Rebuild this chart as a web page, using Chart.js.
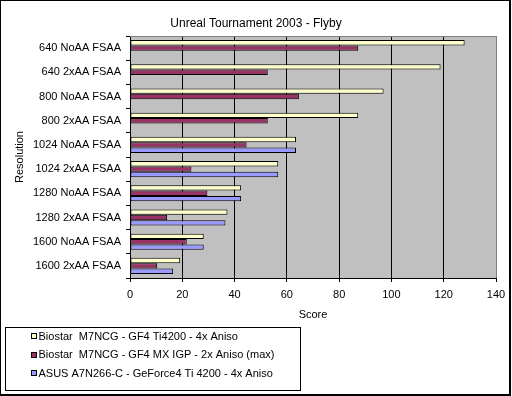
<!DOCTYPE html>
<html><head><meta charset="utf-8">
<script src="https://cdn.jsdelivr.net/npm/chart.js@4.4.0/dist/chart.umd.min.js"></script>
<style>html,body{margin:0;padding:0;background:#fff;}#wrap{width:512px;height:396px;}</style>
</head><body><div id="wrap"><canvas id="c" width="512" height="396"></canvas></div>
<script>
const chartTitle = 'Unreal Tournament 2003 - Flyby';
const xTitle = 'Score';
const yTitle = 'Resolution';
const categories = ['640 NoAA FSAA','640 2xAA FSAA','800 NoAA FSAA','800 2xAA FSAA','1024 NoAA FSAA','1024 2xAA FSAA','1280 NoAA FSAA','1280 2xAA FSAA','1600 NoAA FSAA','1600 2xAA FSAA'];
const seriesNames = ['Biostar  M7NCG - GF4 Ti4200 - 4x Aniso','Biostar  M7NCG - GF4 MX IGP - 2x Aniso (max)','ASUS A7N266-C - GeForce4 Ti 4200 - 4x Aniso'];
const biostarTi4200 = [128, 118.8, 97, 87.3, 63.5, 56.7, 42.5, 37.3, 28.2, 19.2];
const biostarMxIgp = [87.3, 52.7, 64.6, 52.7, 44.6, 23.5, 29.6, 14.2, 21.7, 10.4];
const asusTi4200 = [null, null, null, null, 63.5, 56.7, 42.5, 36.5, 28.2, 16.5];
const xTicks = [0, 20, 40, 60, 80, 100, 120, 140];
const seriesColors = ['#FFFFCC', '#993366', '#9999FF'];

const FONT = '"Liberation Sans", Arial, sans-serif';

const decor = {
  id: 'decor',
  beforeDraw(chart) {
    const ctx = chart.ctx, a = chart.chartArea;
    ctx.save();
    ctx.fillStyle = '#fff';
    ctx.fillRect(0, 0, chart.width, chart.height);
    ctx.fillStyle = '#C0C0C0';
    ctx.fillRect(a.left, a.top, a.right - a.left, a.bottom - a.top);
    ctx.restore();
  },
  afterDraw(chart) {
    const ctx = chart.ctx, a = chart.chartArea;
    ctx.save();
    ctx.strokeStyle = '#808080'; ctx.lineWidth = 1;
    ctx.beginPath();
    ctx.moveTo(a.left, Math.round(a.top) + 0.5);
    ctx.lineTo(a.right + 0.5, Math.round(a.top) + 0.5);
    ctx.stroke();
    ctx.fillStyle = '#000';
    ctx.fillRect(0, 0, 511, 1);
    ctx.fillRect(0, 0, 1, 396);
    ctx.fillRect(509, 0, 2, 396);
    ctx.fillRect(0, 394, 511, 2);
    ctx.strokeStyle = '#000';
    ctx.strokeRect(5.5, 327.5, 295, 63);
    ctx.font = '11px ' + FONT;
    ctx.textBaseline = 'middle';
    ctx.textAlign = 'left';
    chart.data.datasets.forEach((ds, i) => {
      const cy = 336 + i * 18.7;
      ctx.fillStyle = ds.backgroundColor;
      ctx.fillRect(31, Math.round(cy) - 3, 6, 6);
      ctx.strokeRect(31.5, Math.round(cy) - 2.5, 5, 5);
      ctx.fillStyle = '#000';
      ctx.fillText(ds.label, 38.5, cy + 0.5);
    });
    ctx.restore();
  }
};

const mk = (i, data) => ({
  label: seriesNames[i], data,
  backgroundColor: seriesColors[i], borderColor: '#000', borderWidth: 1, borderSkipped: false,
  categoryPercentage: 3 / 4.5, barPercentage: 1
});

new Chart(document.getElementById('c'), {
  type: 'bar',
  data: {
    labels: categories,
    datasets: [mk(0, biostarTi4200), mk(1, biostarMxIgp), mk(2, asusTi4200)]
  },
  options: {
    indexAxis: 'y',
    responsive: false,
    devicePixelRatio: 1,
    animation: false,
    layout: { padding: { left: 0, right: 0, top: 0, bottom: 69 } },
    plugins: {
      legend: { display: false },
      tooltip: { enabled: false },
      title: { display: true, text: chartTitle, color: '#000', font: { family: FONT, size: 12, weight: 'normal' }, padding: { top: 16, bottom: 5.6 } }
    },
    scales: {
      x: {
        type: 'linear', min: xTicks[0], max: xTicks[xTicks.length - 1],
        afterBuildTicks: s => { s.ticks = xTicks.map(v => ({ value: v })); },
        ticks: { color: '#000', font: { family: FONT, size: 11 }, padding: 6, maxRotation: 0 },
        grid: { color: c => c.index === xTicks.length - 1 ? '#808080' : '#000', lineWidth: 1, tickLength: 4, drawTicks: true, tickColor: '#000' },
        border: { display: true, color: '#000' },
        title: { display: true, text: xTitle, color: '#000', font: { family: FONT, size: 11 }, padding: { top: 0, bottom: 5.9 } },
        afterFit: s => { s.height = 49; }
      },
      y: {
        type: 'category',
        ticks: { color: '#000', font: { family: FONT, size: 11 }, padding: 5, autoSkip: false },
        grid: { display: true, drawOnChartArea: false, drawTicks: true, tickLength: 4, offset: true, color: '#000' },
        border: { display: true, color: '#000' },
        title: { display: true, text: yTitle, color: '#000', font: { family: FONT, size: 11 }, padding: { top: 13.4, bottom: 0 } },
        afterFit: s => { s.width = 130; }
      },
      yRight: {
        type: 'category', position: 'right', display: true,
        grid: { display: false }, border: { display: false }, ticks: { display: false },
        afterFit: s => { s.width = 16; }
      }
    }
  },
  plugins: [decor]
});
</script></body></html>
